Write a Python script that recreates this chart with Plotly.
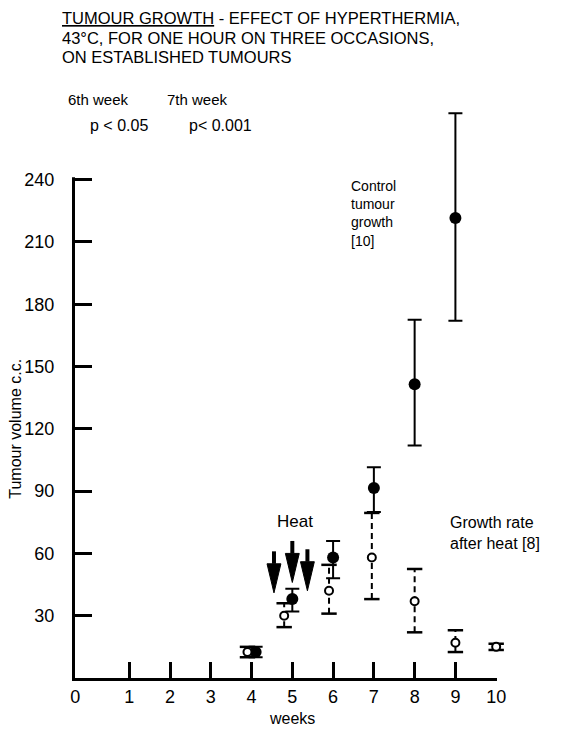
import plotly.graph_objects as go

# ---------------- data ----------------
ctrl_weeks = [4.1, 5.0, 6.0, 7.0, 8.0, 9.0]
ctrl_vol = [12.5, 38, 58, 91.5, 141.5, 221.5]
ctrl_hi = [15, 43, 66, 101.5, 172.5, 272]
ctrl_lo = [10, 32, 48, 80, 112, 172]

heat_weeks_pts = [3.9, 4.8, 5.9, 6.95, 8.0, 9.0, 10.0]
heat_vol = [12.5, 30, 42, 58, 37, 17, 15]
heat_hi = [15, 36, 54.5, 79.5, 52.5, 23, 16.5]
heat_lo = [10, 24.5, 31, 38, 22, 12.5, 13.5]

arrow_weeks = [4.55, 5.0, 5.37]
arrow_top = [61, 66, 62]
arrow_tip = [41, 46, 42]

x_origin = -0.325
x_tick_vals = [x_origin, 1, 2, 3, 4, 5, 6, 7, 8, 9, 10]
x_tick_text = ["0", "1", "2", "3", "4", "5", "6", "7", "8", "9", "10"]
y_tick_vals = [30, 60, 90, 120, 150, 180, 210, 240]
y_axis_top = 240
y_view_top = 275

title_lines = ["<u>TUMOUR GROWTH</u> - EFFECT OF HYPERTHERMIA,",
               "43°C, FOR ONE HOUR ON THREE OCCASIONS,",
               "ON ESTABLISHED TUMOURS"]

FONT = "Liberation Sans"
BLACK = "black"

fig = go.Figure()

# dashed error lines for heated series
dx, dy = [], []
for w, lo, hi in zip(heat_weeks_pts, heat_lo, heat_hi):
    dx += [w, w, None]
    dy += [lo, hi, None]
fig.add_trace(go.Scatter(x=dx, y=dy, mode="lines",
                         line=dict(color=BLACK, width=2, dash="6px,4px"),
                         hoverinfo="skip", showlegend=False, cliponaxis=False))
# caps for heated series
fig.add_trace(go.Scatter(x=heat_weeks_pts + heat_weeks_pts, y=heat_lo + heat_hi,
                         mode="markers",
                         marker=dict(symbol="line-ew", size=11,
                                     line=dict(color=BLACK, width=2.5)),
                         hoverinfo="skip", showlegend=False, cliponaxis=False))

# control series with solid error bars
fig.add_trace(go.Scatter(
    x=ctrl_weeks, y=ctrl_vol, mode="markers",
    marker=dict(symbol="circle", size=12, color=BLACK),
    error_y=dict(type="data", symmetric=False,
                 array=[h - v for h, v in zip(ctrl_hi, ctrl_vol)],
                 arrayminus=[v - l for v, l in zip(ctrl_vol, ctrl_lo)],
                 color=BLACK, thickness=2, width=7),
    showlegend=False, cliponaxis=False))

# heated series markers (open circles)
fig.add_trace(go.Scatter(
    x=heat_weeks_pts, y=heat_vol, mode="markers",
    marker=dict(symbol="circle", size=8, color="white",
                line=dict(color=BLACK, width=2)),
    showlegend=False, cliponaxis=False))

# heat arrows
for w, top, tip in zip(arrow_weeks, arrow_top, arrow_tip):
    base = tip + 14
    fig.add_trace(go.Scatter(x=[w, w], y=[top, base], mode="lines",
                             line=dict(color=BLACK, width=4),
                             hoverinfo="skip", showlegend=False))
    fig.add_trace(go.Scatter(x=[w - 0.17, w + 0.17, w, w - 0.17],
                             y=[base, base, tip, base], mode="lines",
                             fill="toself", fillcolor=BLACK,
                             line=dict(color=BLACK, width=1),
                             hoverinfo="skip", showlegend=False))

# hide the part of the y-axis line above 240
fig.add_shape(type="rect", xref="paper", yref="y", x0=-0.03, x1=0.008,
              y0=y_axis_top + 1.2, y1=y_view_top, layer="above",
              fillcolor="white", line=dict(width=0))

ann_font = dict(family=FONT, color=BLACK)
annotations = []
for line, py in zip(title_lines, [1.1559, 1.1217, 1.0876]):
    annotations.append(dict(xref="paper", yref="paper", x=-0.036, y=py,
                            xanchor="left", yanchor="middle", showarrow=False,
                            text=line, font=dict(size=16.5, **ann_font)))
annotations += [
    dict(xref="paper", yref="paper", x=-0.021, y=1.014, xanchor="left", yanchor="middle",
         showarrow=False, text="6th week", font=dict(size=15, **ann_font)),
    dict(xref="paper", yref="paper", x=0.213, y=1.014, xanchor="left", yanchor="middle",
         showarrow=False, text="7th week", font=dict(size=15, **ann_font)),
    dict(xref="paper", yref="paper", x=0.031, y=0.968, xanchor="left", yanchor="middle",
         showarrow=False, text="p &lt; 0.05", font=dict(size=16, **ann_font)),
    dict(xref="paper", yref="paper", x=0.265, y=0.968, xanchor="left", yanchor="middle",
         showarrow=False, text="p&lt; 0.001", font=dict(size=16, **ann_font)),
    dict(xref="x", yref="y", x=5.07, y=75.5, xanchor="center", yanchor="middle",
         showarrow=False, text="Heat", font=dict(size=17, **ann_font)),
    dict(xref="x", yref="y", x=6.38, y=242, xanchor="left", yanchor="top", align="left",
         showarrow=False, text="Control<br>tumour<br>growth<br>[10]",
         font=dict(size=14, **ann_font)),
    dict(xref="x", yref="y", x=8.83, y=80, xanchor="left", yanchor="top", align="left",
         showarrow=False, text="Growth rate<br>after heat [8]",
         font=dict(size=16, **ann_font)),
    dict(xref="paper", yref="y", x=-0.14, y=120, xanchor="center", yanchor="middle",
         textangle=-90, showarrow=False, text="Tumour volume c.c.",
         font=dict(size=16, **ann_font)),
    dict(xref="x", yref="paper", x=5.0, y=-0.071, xanchor="center", yanchor="middle",
         showarrow=False, text="weeks", font=dict(size=16, **ann_font)),
]

fig.update_layout(
    width=562, height=730,
    margin=dict(l=75, r=65, t=107, b=52),
    paper_bgcolor="white", plot_bgcolor="white",
    font=dict(family=FONT, color=BLACK),
    annotations=annotations,
    xaxis=dict(range=[x_origin - 0.005, 10.02], tickvals=x_tick_vals, ticktext=x_tick_text,
               ticks="inside", ticklen=16, tickwidth=3, tickcolor=BLACK,
               showline=True, linewidth=3, linecolor=BLACK,
               showgrid=False, zeroline=False, automargin=False,
               tickfont=dict(size=18, family=FONT, color=BLACK)),
    yaxis=dict(range=[0, y_view_top], tickvals=y_tick_vals,
               ticks="inside", ticklen=17, tickwidth=3, tickcolor=BLACK,
               showline=True, linewidth=3, linecolor=BLACK,
               showgrid=False, zeroline=False, automargin=False,
               ticklabelstandoff=14,
               tickfont=dict(size=18, family=FONT, color=BLACK)),
)

fig.write_html("out.html", config={"displayModeBar": False},
               post_script="document.body.style.margin='0';document.body.style.overflow='hidden';")
